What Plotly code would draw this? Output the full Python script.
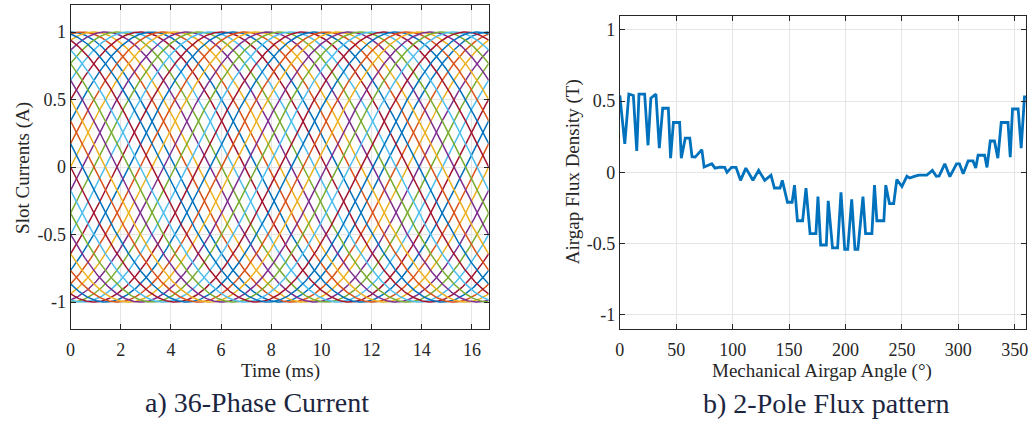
import numpy as np
import plotly.graph_objects as go

# ---------------- data ----------------
# Left: 36-phase slot currents (amplitude, electrical frequency, phase offsets)
AMPLITUDE_A = 1.0
FREQ_HZ = 60.0
PHASE_DEG = [0, 10, 20, 30, 40, 50, 60, 70, 80, 90, 100, 110,
             120, 130, 140, 150, 160, 170, 180, 190, 200, 210, 220, 230,
             240, 250, 260, 270, 280, 290, 300, 310, 320, 330, 340, 350]
T_END_MS = 16.667

# Right: airgap flux density vs mechanical angle
ANGLE_DEG = [0, 4.4, 8, 12, 15, 17, 22, 25, 27.5, 32, 35, 38, 43, 45, 47.5, 53,
             54.5, 58, 62, 64, 66.8, 72.7, 74.7, 77, 81.5, 84.4, 88.8, 93, 95, 99,
             103, 107, 111.7, 118, 123, 128.4, 134, 137, 142, 144, 148.6, 152.7,
             154.8, 157.4, 162, 165, 168.6, 173.8, 175.6, 178, 183, 184.7, 188.5,
             193, 196, 199.3, 202, 205.5, 208.4, 211, 215.5, 217.8, 223.4, 225.7,
             227.8, 234, 235.7, 239, 242.7, 245.5, 250, 254.4, 257, 261, 265, 269,
             272, 277, 280.5, 283, 288, 292.5, 298.4, 301, 304.3, 308.7, 313,
             315.4, 317.5, 323.3, 325.4, 328.3, 332, 335, 338, 344, 346, 348, 353,
             355.7, 358.6, 360]
FLUX_T = [0.54, 0.20, 0.55, 0.54, 0.15, 0.55, 0.55, 0.19, 0.52, 0.55, 0.17, 0.45,
          0.45, 0.10, 0.35, 0.35, 0.10, 0.24, 0.24, 0.11, 0.107, 0.16, 0.037, 0.045,
          0.06, 0.03, 0.037, 0.035, 0.0, 0.035, 0.035, -0.056, 0.03, -0.056, 0.014,
          -0.056, -0.02, -0.11, -0.11, -0.056, -0.21, -0.21, -0.09, -0.34, -0.34,
          -0.11, -0.43, -0.43, -0.17, -0.51, -0.51, -0.20, -0.53, -0.53, -0.14,
          -0.54, -0.54, -0.19, -0.54, -0.54, -0.17, -0.43, -0.43, -0.09, -0.34,
          -0.34, -0.09, -0.22, -0.22, -0.05, -0.10, -0.028, -0.04, -0.028, -0.02,
          -0.02, -0.02, 0.014, -0.028, -0.025, 0.06, -0.03, 0.06, 0.06, -0.01, 0.08,
          0.08, 0.03, 0.12, 0.12, 0.035, 0.22, 0.22, 0.10, 0.35, 0.35, 0.107, 0.445,
          0.445, 0.17, 0.53, 0.53]

MATLAB_COLORS = ["#0072BD", "#D95319", "#EDB120", "#7E2F8E", "#77AC30", "#4DBEEE", "#A2142F"]

Y_TICKS = [-1, -0.5, 0, 0.5, 1]
Y_TICK_TEXT = ["-1", "-0.5", "0", "0.5", "1"]
X1_TICKS = [0, 2, 4, 6, 8, 10, 12, 14, 16]
X2_TICKS = [0, 50, 100, 150, 200, 250, 300, 350]

# ---------------- figure ----------------
W, H = 1034, 421
fig = go.Figure()

t_ms = np.linspace(0, T_END_MS, 600)
for k, ph in enumerate(PHASE_DEG):
    i = AMPLITUDE_A * np.cos(2 * np.pi * FREQ_HZ * t_ms / 1000.0 - np.deg2rad(ph))
    fig.add_trace(go.Scatter(x=t_ms, y=i, mode="lines",
                             line=dict(color=MATLAB_COLORS[k % 7], width=1.5),
                             xaxis="x", yaxis="y", showlegend=False, hoverinfo="skip"))

fig.add_trace(go.Scatter(x=ANGLE_DEG, y=FLUX_T, mode="lines",
                         line=dict(color="#0072BD", width=2.8),
                         xaxis="x2", yaxis="y2", showlegend=False))

FONT = "Liberation Serif, Times New Roman, serif"
axis_common = dict(showline=True, linecolor="#262626", linewidth=1, mirror="ticks",
                   ticks="inside", ticklen=5, tickcolor="#262626",
                   showgrid=True, gridcolor="#e5e5e5", gridwidth=1, zeroline=False,
                   tickfont=dict(family=FONT, size=18, color="#262626"))

def px_x(p):
    return p / W

def px_y(p):
    return 1 - p / H

fig.update_layout(
    width=W, height=H,
    margin=dict(l=0, r=0, t=0, b=0),
    paper_bgcolor="white", plot_bgcolor="white",
    font=dict(family=FONT, color="#262626"),
    xaxis=dict(domain=[px_x(66), px_x(487)], range=[0, T_END_MS], tickvals=X1_TICKS,
               anchor="y", ticklabelstandoff=4, **axis_common),
    yaxis=dict(domain=[px_y(329), px_y(5)], range=[-1.2, 1.2], tickvals=Y_TICKS,
               ticktext=Y_TICK_TEXT, anchor="x", **axis_common),
    xaxis2=dict(domain=[px_x(619), px_x(1028)], range=[0, 360], tickvals=X2_TICKS,
                anchor="y2", ticklabelstandoff=4, **axis_common),
    yaxis2=dict(domain=[px_y(329), px_y(15.7)], range=[-1.1, 1.1], tickvals=Y_TICKS,
                ticktext=Y_TICK_TEXT, anchor="x2", **axis_common),
)

ann = [
    dict(text="Time (ms)", x=px_x(277), y=px_y(371), size=19, color="#262626", angle=0),
    dict(text="Mechanical Airgap Angle (°)", x=px_x(823), y=px_y(371), size=19, color="#262626", angle=0),
    dict(text="Slot Currents (A)", x=px_x(18), y=px_y(168), size=19, color="#262626", angle=-90),
    dict(text="Airgap Flux Density (T)", x=px_x(572), y=px_y(172), size=19, color="#262626", angle=-90),
    dict(text="a) 36-Phase Current", x=px_x(254), y=px_y(402), size=28, color="#1c2540", angle=0),
    dict(text="b) 2-Pole Flux pattern", x=px_x(827), y=px_y(403), size=28, color="#1c2540", angle=0),
]
for a in ann:
    fig.add_annotation(text=a["text"], x=a["x"], y=a["y"], xref="paper", yref="paper",
                       xanchor="center", yanchor="middle", showarrow=False,
                       textangle=a["angle"],
                       font=dict(family=FONT, size=a["size"], color=a["color"]))

fig.write_html("out.html", config={"displayModeBar": False},
               post_script="document.body.style.margin='0';document.body.style.padding='0';")
